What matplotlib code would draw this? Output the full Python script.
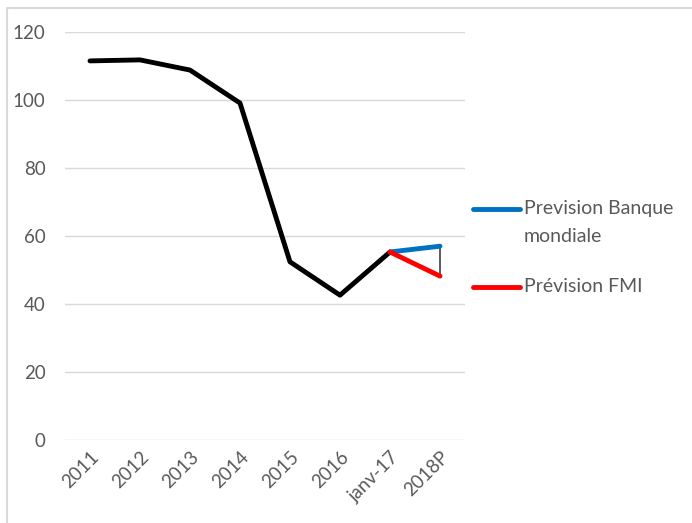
import matplotlib.pyplot as plt
from matplotlib.lines import Line2D

categories = ["2011", "2012", "2013", "2014", "2015", "2016", "janv-17", "2018P"]
history = [111.5, 111.8, 108.8, 99.1, 52.4, 42.6, 55.3]
wb_cats = ["janv-17", "2018P"]
wb_values = [55.3, 57.0]
imf_values = [55.3, 48.2]
legend_labels = ["Prevision Banque\nmondiale", "Prévision FMI"]

plt.rcParams["font.family"] = ["Lato", "DejaVu Sans"]
txt = "#595959"
blue, red = "#0070c0", "#ff0000"

fig = plt.figure(figsize=(6.92, 5.23), dpi=100)
# frame of the chart area (left and top edges only are visible)
fig.lines.append(Line2D([6.5 / 692, 6.5 / 692, 1], [0, 1 - 7.5 / 523, 1 - 7.5 / 523],
                        transform=fig.transFigure, color="#d9d9d9", linewidth=1.5))
ax = fig.add_axes([65 / 692, 83 / 523, 400 / 692, 408 / 523])

x = list(range(len(categories)))
ax.plot(x[:len(history)], history, color="black", linewidth=3.5,
        solid_capstyle="round", solid_joinstyle="round", zorder=3)
wx = [categories.index(c) for c in wb_cats]
ax.plot(wx, wb_values, color=blue, linewidth=3.5, solid_capstyle="round", zorder=4)
ax.plot(wx, imf_values, color=red, linewidth=3.5, solid_capstyle="round", zorder=4)
ax.vlines(wx[-1], imf_values[-1], wb_values[-1], color="#404040",
          linewidth=1.2, zorder=2)

ax.set_xlim(-0.5, len(categories) - 0.5)
ax.set_ylim(0, 120)
ax.set_yticks(range(0, 121, 20))
ax.set_xticks(x)
ax.set_xticklabels(categories, rotation=45, ha="right", rotation_mode="anchor")
ax.grid(axis="y", color="#d9d9d9", linewidth=1)
ax.set_axisbelow(True)
for s in ax.spines.values():
    s.set_visible(False)
ax.tick_params(length=0, colors=txt, labelsize=13.5)
ax.tick_params(axis="y", pad=14)
ax.tick_params(axis="x", pad=6)

# legend, drawn by hand so the swatch sits on the first text line
for (ypx, col, lab) in [(209, blue, legend_labels[0]), (287, red, legend_labels[1])]:
    yf = 1 - ypx / 523
    fig.lines.append(Line2D([473 / 692, 520 / 692], [yf, yf], transform=fig.transFigure,
                            color=col, linewidth=3.5, solid_capstyle="round"))
    fig.text(524 / 692, yf + 9 / 523, lab, color=txt, fontsize=14, va="top",
             ha="left", linespacing=1.75)

fig.savefig("out.png", dpi=100)
